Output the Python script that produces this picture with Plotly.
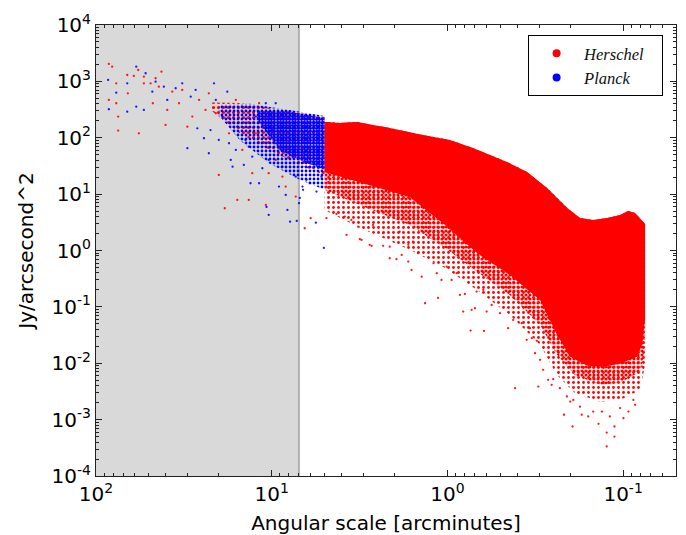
import plotly.graph_objects as go

# ---------------- data ----------------
# shaded (excluded) angular range, arcmin
shade_x = [100, 7.0]
y_limits = [1e-4, 1e4]

# Herschel dense cloud: upper envelope (left -> right)
herschel_top_x = [5.0, 4.10, 3.28, 2.13, 1.38, 0.968, 0.716, 0.458, 0.352, 0.271,
                  0.208, 0.176, 0.148, 0.123, 0.104, 0.0937, 0.0855, 0.075]
herschel_top_y = [190, 183, 190, 149, 112, 91, 66, 37, 24.8, 12.9,
                  5.7, 3.78, 3.49, 3.78, 4.28, 5.04, 4.64, 2.96]

# Herschel solid core: lower envelope (left -> right)
herschel_core_low_x = [5.0, 3.16, 1.64, 1.03, 0.679, 0.441, 0.297, 0.238, 0.200,
                       0.160, 0.130, 0.104, 0.0832, 0.078, 0.075]
herschel_core_low_y = [24.8, 16.4, 8.9, 2.84, 0.906, 0.369, 0.133, 0.0319, 0.0130,
                       0.0090, 0.00863, 0.00975, 0.0130, 0.0212, 0.0589]

# Herschel fringe (medium / faint density) lower envelopes
herschel_fringe_x = [5.0, 3.16, 1.64, 1.03, 0.679, 0.441, 0.297, 0.238, 0.188,
                     0.135, 0.104, 0.080, 0.075]
herschel_fringe1_y = [11.9, 6.4, 2.84, 1.11, 0.418, 0.163, 0.048, 0.0141, 0.00622,
                      0.00414, 0.00449, 0.00704, 0.0173]
herschel_fringe2_y = [5.25, 2.52, 1.03, 0.491, 0.200, 0.0721, 0.0212, 0.00622, 0.00298,
                      0.00207, 0.00224, 0.00337, 0.00938]

# Herschel points inside the shaded zone (mixed band)
herschel_mix_top_x = [22.0, 15.2, 10.3, 6.92, 5.0]
herschel_mix_top_y = [420, 414, 338, 275, 234]
herschel_mix_low_x = [22.0, 15.2, 10.3, 6.92, 5.0]
herschel_mix_low_y = [300, 120, 60.8, 32.9, 21.9]

# Herschel individual (sparse) points
herschel_pts_x = [
    6.49, 6.0, 4.88, 4.28, 3.84, 3.52, 3.22, 3.08, 2.77, 2.65, 2.32, 2.13, 1.87, 1.67,
    1.57, 1.47, 3.75, 3.15, 2.70, 2.32, 2.13, 1.95, 1.82, 1.67, 1.60, 1.40, 1.34, 1.15,
    1.13, 1.08, 0.946, 0.849, 0.795, 0.813, 0.728, 0.697, 0.738, 0.619, 0.598, 0.560,
    0.502, 0.451, 0.422, 0.378, 0.339, 0.331, 0.310, 0.625, 0.682, 0.886, 1.20, 1.01,
    0.412, 0.304, 0.255, 0.217, 0.194, 0.172, 0.158, 0.138, 0.124, 0.112, 0.124, 0.112,
    0.0996, 0.148, 0.200, 0.176, 0.0874, 0.0782, 0.354, 0.250, 0.0933, 0.0855, 0.192,
    0.209, 0.132, 0.119, 0.104, 0.229, 0.267, 0.285, 0.317, 0.297,
    84.5, 80.9, 84.5, 76.7, 76.7, 74.8, 74.8, 66.4, 65.9, 60.9, 57.5, 57.0, 53.4, 53.4,
    48.9, 47.5, 45.8, 42.4, 43.9, 40.2, 39.3, 36.8, 33.7, 32.3, 30.2, 28.3, 25.9, 23.8,
    22.8, 20.8, 20.0, 18.5, 17.5, 16.0, 15.7, 14.7, 13.5, 12.9, 12.3, 11.8, 10.8, 10.4,
    9.49, 8.69, 8.32, 7.97, 7.30, 7.46]
herschel_pts_y = [
    2.48, 3.74, 3.74, 4.46, 3.99, 3.49, 2.65, 1.54, 1.26, 2.84, 2.03, 1.17, 2.16, 1.26,
    1.44, 0.895, 1.89, 1.59, 1.21, 1.21, 0.730, 0.701, 0.836, 0.636, 0.453, 0.344, 0.116,
    0.396, 0.144, 0.301, 0.301, 0.163, 0.17, 0.0826, 0.0885, 0.095, 0.038, 0.0375, 0.0826,
    0.108, 0.0773, 0.0419, 0.0588, 0.0514, 0.0419, 0.0279, 0.025, 0.200, 0.187, 0.396,
    0.595, 0.518, 0.00362, 0.00386, 0.00414, 0.00122, 0.000755, 0.00122, 0.00114,
    0.000843, 0.00059, 0.0005, 0.000334, 0.000755, 0.00106, 0.00139, 0.00209, 0.0017,
    0.00224, 0.00874, 0.026, 0.00522, 0.00139, 0.00183, 0.00224, 0.00257, 0.00139,
    0.00114, 0.0016, 0.00362, 0.00508, 0.00764, 0.0151, 0.0115,
    2037, 1823, 468, 925, 409, 237, 134, 1298, 615, 1247, 1592, 120, 1211, 925,
    925, 409, 1135, 1486, 805, 169, 311, 657, 409, 704, 157, 237, 468, 311,
    615, 272, 21.9, 5.62, 120, 468, 7.89, 60.8, 7.89, 23.5, 120, 409, 6.44, 23.5,
    40.4, 20.4, 13.6, 237, 9.03, 60.8]

# Planck dense band (loose halo and core)
planck_halo_top_x = [20.0, 13.3, 7.89, 5.0]
planck_halo_top_y = [380, 400, 311, 244]
planck_halo_low_x = [20.0, 15.2, 10.3, 6.92, 5.0]
planck_halo_low_y = [250, 90, 35, 17.9, 11.9]
planck_core_top_x = [12.0, 7.89, 5.0]
planck_core_top_y = [300, 290, 224]
planck_core_low_x = [12.0, 9.0, 6.92, 5.0]
planck_core_low_y = [200, 60.8, 40.4, 26.9]

# Planck individual points
planck_pts_x = [
    85.3, 84.5, 76.7, 66.4, 66.4, 59.0, 59.0, 53.4, 52.2, 47.8, 45.8, 41.1, 39.3, 35.2,
    32.3, 30.2, 28.9, 27.1, 26.5, 24.3, 22.8, 21.3, 20.8, 20.0, 19.1, 17.9, 17.1, 16.7,
    16.0, 15.7, 14.7, 14.1, 13.2, 12.9, 12.3, 11.8, 11.3, 10.8, 10.4, 9.91, 9.49, 9.09,
    8.69, 8.32, 8.14, 7.86, 7.62, 7.30, 6.99, 6.68, 13.5, 17.5, 22.3, 14.4, 10.4, 10.7,
    5.05, 7.20, 5.61, 6.92, 6.63, 6.07, 5.56, 5.21, 6.34]
planck_pts_y = [
    1059, 320, 631, 925, 290, 1823, 356, 311, 1393, 657, 988, 805, 468, 755,
    925, 65.2, 535, 704, 147, 98, 53.1, 925, 468, 91.4, 237, 657, 40.4, 30.7,
    60.8, 157, 356, 91.4, 15.6, 46.2, 237, 15.6, 28.8, 409, 4.28, 137, 409, 13.6,
    30.7, 9.68, 5.25, 3.25, 46.2, 20.4, 6.90, 13.6, 69.5, 79.9, 137, 32.9, 40.4, 5.93,
    1.11, 3.35, 3.12, 8.57, 11.9, 15.6, 11.1, 20.4, 17.9]

series_names = ["<i>Herschel</i>&nbsp;&nbsp;&nbsp;", "<i>Planck</i>"]
series_colors = ["#ff0000", "#0000ff"]

x_tick_vals = [100, 10, 1, 0.1]
x_tick_text = ["10<sup>2</sup>", "10<sup>1</sup>", "10<sup>0</sup>", "10<sup>-1</sup>"]
y_tick_vals = [1e-4, 1e-3, 1e-2, 1e-1, 1, 10, 100, 1e3, 1e4]
y_tick_text = ["10<sup>-4</sup>", "10<sup>-3</sup>", "10<sup>-2</sup>", "10<sup>-1</sup>",
               "10<sup>0</sup>", "10<sup>1</sup>", "10<sup>2</sup>", "10<sup>3</sup>",
               "10<sup>4</sup>"]


def band(top_x, top_y, low_x, low_y):
    return top_x + low_x[::-1], top_y + low_y[::-1]


def dotted(color, size, solidity):
    return dict(shape=".", fgcolor=color, bgcolor="rgba(0,0,0,0)",
                size=size, solidity=solidity, fillmode="replace")


fig = go.Figure()

# shaded excluded region
fig.add_trace(go.Scatter(
    x=[shade_x[0], shade_x[0], shade_x[1], shade_x[1]],
    y=[y_limits[0], y_limits[1], y_limits[1], y_limits[0]],
    fill="toself", fillcolor="#d9d9d9", mode="lines",
    line=dict(width=0), hoverinfo="skip", showlegend=False))
fig.add_trace(go.Scatter(
    x=[shade_x[1], shade_x[1]], y=y_limits, mode="lines",
    line=dict(color="#b0b0b0", width=2), hoverinfo="skip", showlegend=False))

red = series_colors[0]
blue = series_colors[1]

# Herschel fringes (dotted texture) and solid core
for low_y, sz, sol in [(herschel_fringe2_y, 5, 0.25), (herschel_fringe1_y, 4, 0.5)]:
    bx, by = band(herschel_top_x, herschel_top_y, herschel_fringe_x, low_y)
    fig.add_trace(go.Scatter(x=bx, y=by, fill="toself", mode="lines",
                             fillcolor="rgba(0,0,0,0)", fillpattern=dotted(red, sz, sol),
                             line=dict(width=0), hoverinfo="skip", showlegend=False))
bx, by = band(herschel_top_x, herschel_top_y, herschel_core_low_x, herschel_core_low_y)
fig.add_trace(go.Scatter(x=bx, y=by, fill="toself", mode="lines", fillcolor=red,
                         line=dict(width=0), hoverinfo="skip", showlegend=False))
bx, by = band(herschel_mix_top_x, herschel_mix_top_y, herschel_mix_low_x, herschel_mix_low_y)
fig.add_trace(go.Scatter(x=bx, y=by, fill="toself", mode="lines",
                         fillcolor="rgba(0,0,0,0)", fillpattern=dotted(red, 5, 0.3),
                         line=dict(width=0), hoverinfo="skip", showlegend=False))
fig.add_trace(go.Scatter(x=herschel_pts_x, y=herschel_pts_y, mode="markers",
                         marker=dict(color=red, size=2.3, opacity=0.9),
                         hoverinfo="skip", showlegend=False))

# Planck
bx, by = band(planck_halo_top_x, planck_halo_top_y, planck_halo_low_x, planck_halo_low_y)
fig.add_trace(go.Scatter(x=bx, y=by, fill="toself", mode="lines",
                         fillcolor="rgba(0,0,0,0)", fillpattern=dotted(blue, 4, 0.4),
                         line=dict(width=0), hoverinfo="skip", showlegend=False))
bx, by = band(planck_core_top_x, planck_core_top_y, planck_core_low_x, planck_core_low_y)
fig.add_trace(go.Scatter(x=bx, y=by, fill="toself", mode="lines",
                         fillcolor="rgba(0,0,0,0)", fillpattern=dotted(blue, 3, 0.75),
                         line=dict(width=0), hoverinfo="skip", showlegend=False))
fig.add_trace(go.Scatter(x=planck_pts_x, y=planck_pts_y, mode="markers",
                         marker=dict(color=blue, size=2.3, opacity=0.9),
                         hoverinfo="skip", showlegend=False))

# legend entries
for name, col in zip(series_names, series_colors):
    fig.add_trace(go.Scatter(x=[None], y=[None], mode="markers", name=name,
                             marker=dict(color=col, size=8)))

minor_vals = []
for e in range(-5, 5):
    for m in range(2, 10):
        minor_vals.append(m * 10.0 ** e)

axis_common = dict(
    type="log", showgrid=False, zeroline=False, showline=True, linecolor="#222",
    linewidth=1, mirror="ticks", ticks="inside", ticklen=6, tickwidth=1,
    tickcolor="#222", tickmode="array",
    tickfont=dict(family="DejaVu Sans", size=20, color="black"),
    minor=dict(ticks="inside", ticklen=3, tickwidth=1, tickcolor="#222",
               tickmode="array", tickvals=minor_vals, showgrid=False),
)

fig.update_xaxes(**axis_common, range=[2, -1.301], tickvals=x_tick_vals,
                 ticktext=x_tick_text,
                 title=dict(text="Angular scale [arcminutes]", standoff=12,
                            font=dict(family="DejaVu Sans", size=20, color="black")))
fig.update_yaxes(**axis_common, range=[-4, 4], tickvals=y_tick_vals,
                 ticktext=y_tick_text,
                 title=dict(text="Jy/arcsecond^2", standoff=12,
                            font=dict(family="DejaVu Sans", size=20, color="black")))

fig.update_layout(
    width=686, height=535,
    margin=dict(l=96, r=10, t=25, b=59, autoexpand=False),
    paper_bgcolor="white", plot_bgcolor="white",
    showlegend=True,
    legend=dict(x=0.745, y=0.978, xanchor="left", yanchor="top",
                bgcolor="white", bordercolor="black", borderwidth=1,
                itemwidth=45,
                font=dict(family="Liberation Serif", size=16.5, color="#111")),
)

fig.write_html("out.html", config={"displayModeBar": False},
               post_script="document.body.style.margin='0';"
                           "document.body.style.overflow='hidden';")
